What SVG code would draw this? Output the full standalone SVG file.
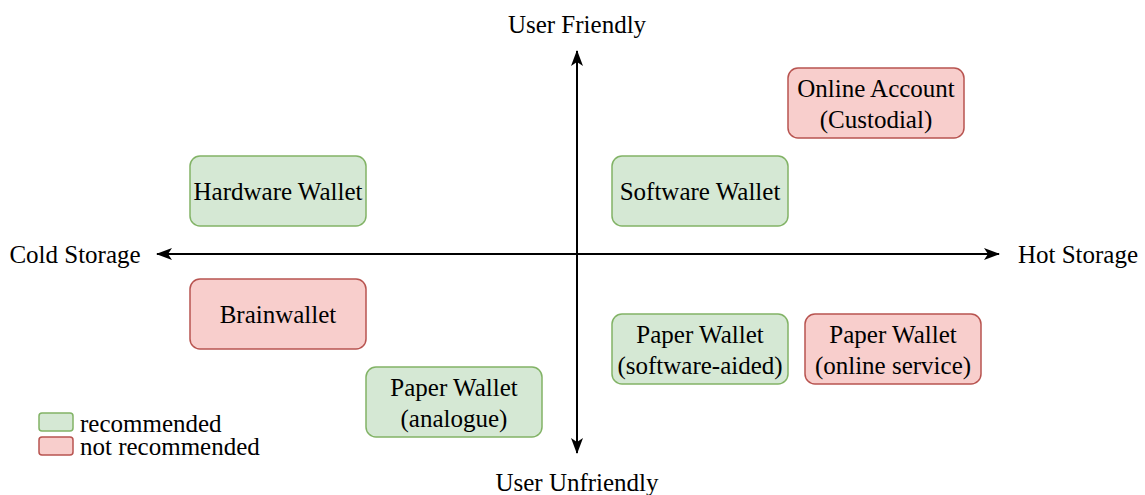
<svg xmlns="http://www.w3.org/2000/svg" width="1145" height="495" viewBox="0 0 1145 495">
<style>
text{font-family:"Liberation Serif","DejaVu Serif",serif;font-size:25px;fill:#000;text-anchor:middle}
.g{fill:#d5e8d4;stroke:#82b366;stroke-width:1.5}
.r{fill:#f8cecc;stroke:#b85450;stroke-width:1.5}
.lg{text-anchor:start}
</style>
<defs>
<marker id="ah2" viewBox="0 0 16 12" refX="15" refY="6" markerWidth="16" markerHeight="12" markerUnits="userSpaceOnUse" orient="auto-start-reverse">
<path d="M0,0 L16,6 L0,12 L4,6 Z" fill="#000"/>
</marker>
</defs>
<g id="connectors">
<line x1="157" y1="254" x2="999" y2="254" stroke="#000" stroke-width="2" marker-start="url(#ah2)" marker-end="url(#ah2)"/>
<line x1="577" y1="51" x2="577" y2="453" stroke="#000" stroke-width="2" marker-start="url(#ah2)" marker-end="url(#ah2)"/>
</g>
<g id="label-user-friendly"><text x="577" y="33">User Friendly</text></g>
<g id="label-user-unfriendly"><text x="577" y="491">User Unfriendly</text></g>
<g id="label-cold"><text x="75" y="263">Cold Storage</text></g>
<g id="label-hot"><text x="1078" y="263">Hot Storage</text></g>
<g id="online-account"><rect class="r" x="788" y="68" width="176" height="70" rx="10"/><text x="876" y="97">Online Account</text><text x="876" y="128">(Custodial)</text></g>
<g id="hardware-wallet"><rect class="g" x="190" y="156" width="176" height="70" rx="10"/><text x="278" y="200">Hardware Wallet</text></g>
<g id="software-wallet"><rect class="g" x="612" y="156" width="176" height="70" rx="10"/><text x="700" y="200">Software Wallet</text></g>
<g id="brainwallet"><rect class="r" x="190" y="279" width="176" height="70" rx="10"/><text x="278" y="323">Brainwallet</text></g>
<g id="paper-software"><rect class="g" x="612" y="314" width="176" height="70" rx="10"/><text x="700" y="343">Paper Wallet</text><text x="700" y="374">(software-aided)</text></g>
<g id="paper-online"><rect class="r" x="805" y="314" width="176" height="70" rx="10"/><text x="893" y="343">Paper Wallet</text><text x="893" y="374">(online service)</text></g>
<g id="paper-analogue"><rect class="g" x="366" y="367" width="176" height="70" rx="10"/><text x="454" y="396">Paper Wallet</text><text x="454" y="427">(analogue)</text></g>
<g id="legend">
<rect class="g" x="39" y="413" width="34" height="18" rx="3"/>
<text class="lg" x="80" y="432">recommended</text>
<rect class="r" x="39" y="437" width="34" height="18" rx="3"/>
<text class="lg" x="80" y="455">not recommended</text>
</g>
</svg>
